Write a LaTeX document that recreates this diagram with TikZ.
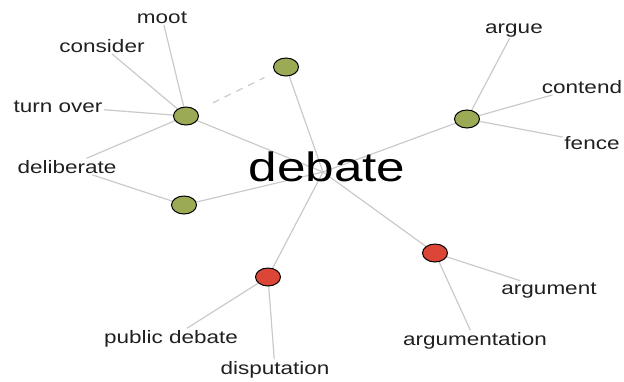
\documentclass[tikz,border=0pt]{standalone}
\usepackage{fontspec}
\setmainfont[FakeStretch=1.25]{Liberation Sans}
\usetikzlibrary{backgrounds,shapes.geometric}
\definecolor{olivefill}{HTML}{9BAA55}
\definecolor{redfill}{HTML}{DC4636}
\definecolor{linegray}{HTML}{CACACA}
\definecolor{txt}{HTML}{202020}
\tikzset{
  gnode/.style={ellipse, draw=black, line width=1pt, fill=olivefill, minimum width=25pt, minimum height=18pt, inner sep=0pt},
  rnode/.style={ellipse, draw=black, line width=1pt, fill=redfill, minimum width=25pt, minimum height=18pt, inner sep=0pt},
  word/.style={anchor=base, text=txt, font=\fontsize{18}{20}\selectfont, inner sep=1.5pt},
  link/.style={draw=linegray, line width=1.2pt},
  dlink/.style={draw=linegray, line width=1.2pt, dash pattern=on 7pt off 6pt}
}
\begin{document}
\begin{tikzpicture}[x=1pt,y=-1pt]
\useasboundingbox (0,0) rectangle (624,381);
\coordinate (hub) at (323,172);
\node[gnode] (A) at (286,67) {};
\node[gnode] (B) at (186,116) {};
\node[gnode] (C) at (184,205) {};
\node[gnode] (D) at (467,119) {};
\node[rnode] (E) at (268,277) {};
\node[rnode] (F) at (435,253) {};
\node[anchor=base, text=black, font=\fontsize{41}{44}\selectfont, inner sep=0pt] (deb) at (327,181) {debate};
\node[word] (moot) at (162,23) {moot};
\node[word] (consider) at (102,52) {consider};
\node[word] (turnover) at (58,112) {turn over};
\node[word] (delib) at (67,173) {deliberate};
\node[word] (argue) at (514,33) {argue};
\node[word] (contend) at (582,93) {contend};
\node[word] (fence) at (592,149) {fence};
\node[word] (argument) at (549,294) {argument};
\node[word] (argumentation) at (475,345) {argumentation};
\node[word] (public) at (171,343) {public debate};
\node[word] (disput) at (275,374) {disputation};
\begin{scope}[on background layer]
\draw[link] (hub) -- (A);
\draw[link] (hub) -- (B);
\draw[link] (hub) -- (C);
\draw[link] (hub) -- (D);
\draw[link] (hub) -- (E);
\draw[link] (hub) -- (F);
\draw[dlink, shorten <=18pt, shorten >=12pt] (B) -- (A);
\draw[link] (B) -- (moot);
\draw[link] (B) -- (consider);
\draw[link] (B) -- (turnover);
\draw[link] (B) -- (delib);
\draw[link] (C) -- (delib);
\draw[link] (D) -- (argue);
\draw[link] (D) -- (contend);
\draw[link] (D) -- (fence);
\draw[link] (F) -- (argument);
\draw[link] (F) -- (argumentation);
\draw[link] (E) -- (public);
\draw[link] (E) -- (disput);
\end{scope}
\end{tikzpicture}
\end{document}
